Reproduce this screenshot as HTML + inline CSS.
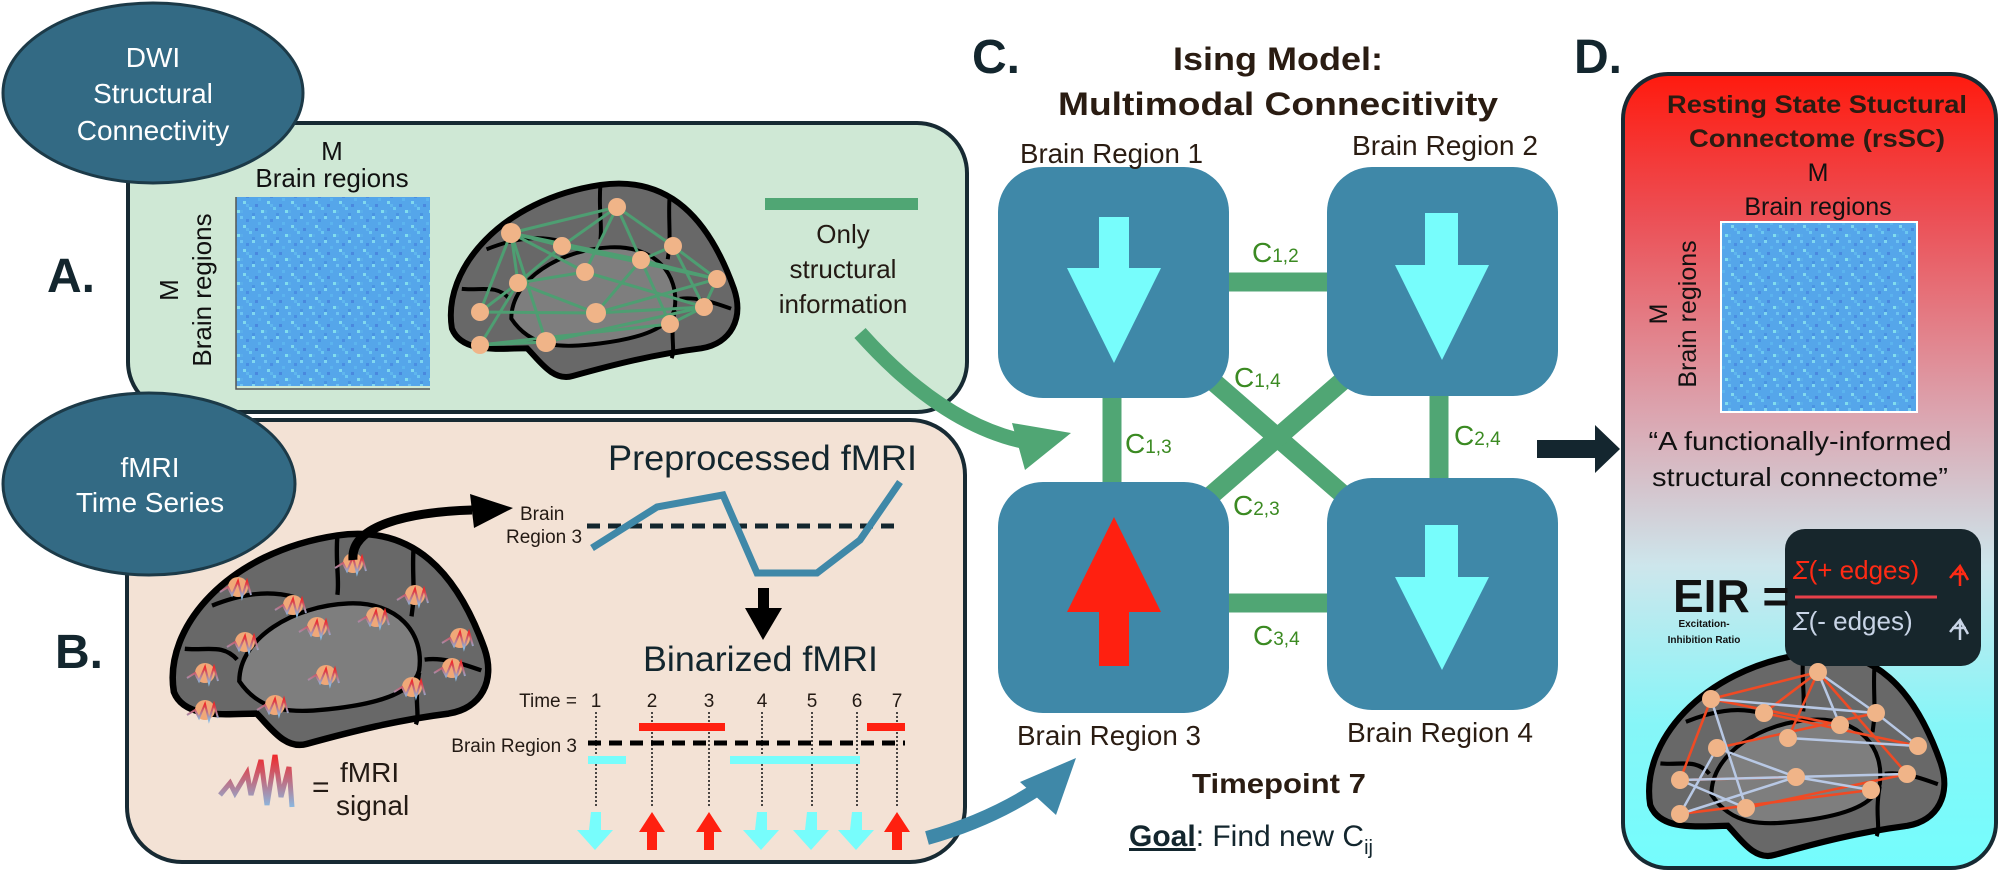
<!DOCTYPE html>
<html><head><meta charset="utf-8"><style>
html,body{margin:0;padding:0;background:#fff;}
svg{display:block;}
text{font-family:"Liberation Sans",sans-serif;}
</style></head><body>
<svg width="2000" height="874" viewBox="0 0 2000 874" xmlns="http://www.w3.org/2000/svg">
<defs>
<linearGradient id="dg" x1="0" y1="0" x2="0" y2="1">
<stop offset="0" stop-color="#ff1a0e"/><stop offset="0.18" stop-color="#ec4f55"/><stop offset="0.42" stop-color="#dca2ad"/><stop offset="0.62" stop-color="#cde6ec"/><stop offset="0.82" stop-color="#86f6f8"/><stop offset="1" stop-color="#74fdfd"/>
</linearGradient>
<linearGradient id="sig" x1="0" y1="0" x2="0" y2="1"><stop offset="0" stop-color="#f0282a"/><stop offset="1" stop-color="#8ab8e0"/></linearGradient>
<pattern id="mx" width="24" height="24" patternUnits="userSpaceOnUse">
<rect width="24" height="24" fill="#55a6ea"/>
<rect x="0" y="0" width="3" height="3" fill="#6ec4f2"/><rect x="6" y="3" width="3" height="3" fill="#4a8ee2"/><rect x="12" y="0" width="3" height="3" fill="#7fd6f0"/><rect x="18" y="6" width="3" height="3" fill="#5cb4ee"/><rect x="3" y="9" width="3" height="3" fill="#80d8ee"/><rect x="15" y="12" width="3" height="3" fill="#4a88de"/><rect x="9" y="15" width="3" height="3" fill="#6cc8f0"/><rect x="21" y="18" width="3" height="3" fill="#80dcee"/><rect x="0" y="18" width="3" height="3" fill="#5aaeea"/><rect x="12" y="21" width="3" height="3" fill="#4a94e2"/><rect x="6" y="12" width="3" height="3" fill="#5fb6ee"/>
</pattern>
<path id="brain" d="M10,150 C0,90 60,20 160,5 C230,-5 270,40 295,110 C305,140 292,165 262,170 C215,176 175,186 132,198 C112,204 98,182 86,170 C60,170 20,176 10,150 Z"/>
<g id="brainfull">
<use href="#brain" fill="#686868" stroke="#000" stroke-width="6"/>
<path d="M70,140 C70,100 120,70 170,68 C215,66 240,95 235,130 C230,150 200,160 160,165 C120,170 90,170 70,140Z" fill="#7e7e7e" stroke="#000" stroke-width="4"/>
<path d="M160,5 C158,30 162,45 160,60 M230,15 C228,40 232,55 228,80 M20,110 C40,112 55,105 68,120 M240,120 C255,118 270,122 292,130 M235,132 C230,160 236,170 232,180 M45,70 C70,60 95,55 120,62" fill="none" stroke="#000" stroke-width="4"/>
</g>
</defs>

<!-- Panel A -->
<rect x="128" y="123" width="839" height="289" rx="50" fill="#cfe8d5" stroke="#172a33" stroke-width="4"/>
<ellipse cx="153" cy="93" rx="150" ry="90" fill="#336a84" stroke="#1c3a48" stroke-width="3"/>
<g fill="#fff" font-size="28" text-anchor="middle">
<text x="153" y="67">DWI</text><text x="153" y="103">Structural</text><text x="153" y="140">Connectivity</text></g>
<text x="47" y="292" font-size="48" font-weight="bold" fill="#13262e">A.</text>
<text x="332" y="160" font-size="26" text-anchor="middle" fill="#111">M</text>
<text x="332" y="187" font-size="26" text-anchor="middle" fill="#111">Brain regions</text>
<text transform="rotate(-90 178 290)" x="178" y="290" font-size="26" text-anchor="middle" fill="#111">M</text>
<text transform="rotate(-90 211 290)" x="211" y="290" font-size="26" text-anchor="middle" fill="#111">Brain regions</text>
<rect x="236" y="197" width="194" height="189" fill="url(#mx)"/>
<path d="M236,197 V389 H430" fill="none" stroke="#555" stroke-width="1.5"/>
<g transform="translate(442,180) scale(0.99,0.99)"><use href="#brainfull"/></g>
<g stroke="#4e9e72" stroke-width="3">
<path d="M511,233 L617,207 L562,246 L511,233 L641,260 L673,246 L617,207 L585,272 L518,283 L511,233 L480,312 L518,283 L596,313 L717,279 L641,260 L596,313 L704,307 L717,279 L673,246 L704,307 L670,324 L480,345 L546,342 L704,307 M511,233 L546,342 M617,207 L641,260 M562,246 L717,279 M480,312 L596,313 M518,283 L480,345 M617,207 L670,324 M585,272 L704,307 M480,345 L670,324 M511,233 L585,272 M562,246 L518,283" fill="none"/>
</g>
<g fill="#f0b488">
<circle cx="511" cy="233" r="10"/><circle cx="617" cy="207" r="9"/><circle cx="562" cy="246" r="9"/><circle cx="673" cy="246" r="9"/><circle cx="641" cy="260" r="9"/><circle cx="585" cy="272" r="9"/><circle cx="518" cy="283" r="9"/><circle cx="717" cy="279" r="9"/><circle cx="480" cy="312" r="9"/><circle cx="596" cy="313" r="10"/><circle cx="704" cy="307" r="9"/><circle cx="670" cy="324" r="9"/><circle cx="480" cy="345" r="9"/><circle cx="546" cy="342" r="10"/>
</g>
<rect x="765" y="198" width="153" height="12" fill="#50a674"/>
<g font-size="26" text-anchor="middle" fill="#231a14">
<text x="843" y="243">Only</text><text x="843" y="278">structural</text><text x="843" y="313">information</text></g>

<!-- Panel B -->
<rect x="127" y="420" width="838" height="442" rx="55" fill="#f3e2d5" stroke="#172a33" stroke-width="4"/>
<ellipse cx="149" cy="484" rx="146" ry="91" fill="#336a84" stroke="#1c3a48" stroke-width="3"/>
<g fill="#fff" font-size="28" text-anchor="middle"><text x="150" y="477">fMRI</text><text x="150" y="512">Time Series</text></g>
<text x="55" y="668" font-size="48" font-weight="bold" fill="#13262e">B.</text>
<g transform="translate(163,530) scale(1.09,1.08)"><use href="#brainfull"/></g>
<g fill="#f0a878">
<circle cx="353" cy="563" r="10"/><circle cx="238" cy="587" r="10"/><circle cx="293" cy="605" r="10"/><circle cx="415" cy="595" r="10"/><circle cx="376" cy="617" r="10"/><circle cx="317" cy="627" r="10"/><circle cx="245" cy="642" r="10"/><circle cx="205" cy="673" r="10"/><circle cx="326" cy="675" r="10"/><circle cx="460" cy="638" r="10"/><circle cx="452" cy="668" r="10"/><circle cx="412" cy="687" r="10"/><circle cx="205" cy="710" r="10"/><circle cx="275" cy="705" r="10"/>
</g>
<g fill="none" stroke="url(#sig)" stroke-width="2">
<path d="M335,568 l8,-5 l4,8 l6,-14 l4,16 l5,-16 l4,14"/><path d="M220,592 l8,-5 l4,8 l6,-14 l4,16 l5,-16 l4,14"/><path d="M275,610 l8,-5 l4,8 l6,-14 l4,16 l5,-16 l4,14"/><path d="M397,600 l8,-5 l4,8 l6,-14 l4,16 l5,-16 l4,14"/><path d="M358,622 l8,-5 l4,8 l6,-14 l4,16 l5,-16 l4,14"/><path d="M299,632 l8,-5 l4,8 l6,-14 l4,16 l5,-16 l4,14"/><path d="M227,647 l8,-5 l4,8 l6,-14 l4,16 l5,-16 l4,14"/><path d="M187,678 l8,-5 l4,8 l6,-14 l4,16 l5,-16 l4,14"/><path d="M308,680 l8,-5 l4,8 l6,-14 l4,16 l5,-16 l4,14"/><path d="M442,643 l8,-5 l4,8 l6,-14 l4,16 l5,-16 l4,14"/><path d="M434,673 l8,-5 l4,8 l6,-14 l4,16 l5,-16 l4,14"/><path d="M394,692 l8,-5 l4,8 l6,-14 l4,16 l5,-16 l4,14"/><path d="M187,715 l8,-5 l4,8 l6,-14 l4,16 l5,-16 l4,14"/><path d="M257,710 l8,-5 l4,8 l6,-14 l4,16 l5,-16 l4,14"/>
</g>
<path d="M353,560 C350,525 410,512 472,510" fill="none" stroke="#000" stroke-width="9"/>
<polygon points="513,508 470,494 474,528" fill="#000"/>
<path d="M220,795 l10,-12 l5,10 l12,-20 l4,22 l10,-35 l6,45 l8,-50 l6,42 l8,-30 l3,40" fill="none" stroke="url(#sig)" stroke-width="5"/>
<text x="312" y="797" font-size="30" fill="#231a14">=</text>
<text x="340" y="782" font-size="28" fill="#231a14">fMRI</text>
<text x="336" y="815" font-size="28" fill="#231a14">signal</text>

<text x="608" y="470" font-size="35" fill="#13262e" textLength="309" lengthAdjust="spacingAndGlyphs">Preprocessed fMRI</text>
<text x="520" y="520" font-size="19" fill="#231a14">Brain</text>
<text x="506" y="543" font-size="19" fill="#231a14">Region 3</text>
<line x1="587" y1="526" x2="900" y2="526" stroke="#13262e" stroke-width="5" stroke-dasharray="13,8"/>
<polyline points="592,548 657,507 723,495 757,573 817,573 860,540 900,482" fill="none" stroke="#3f88a8" stroke-width="7"/>
<rect x="758" y="588" width="11" height="22" fill="#000"/><polygon points="745,608 782,608 763,640" fill="#000"/>
<text x="643" y="671" font-size="35" fill="#13262e" textLength="235" lengthAdjust="spacingAndGlyphs">Binarized fMRI</text>
<text x="577" y="707" font-size="19" text-anchor="end" fill="#231a14">Time =</text>
<g font-size="19" text-anchor="middle" fill="#231a14">
<text x="596" y="707">1</text><text x="652" y="707">2</text><text x="709" y="707">3</text><text x="762" y="707">4</text><text x="812" y="707">5</text><text x="857" y="707">6</text><text x="897" y="707">7</text></g>
<g stroke="#111" stroke-width="1.5" stroke-dasharray="2,2">
<line x1="596" y1="712" x2="596" y2="808"/><line x1="652" y1="712" x2="652" y2="808"/><line x1="709" y1="712" x2="709" y2="808"/><line x1="762" y1="712" x2="762" y2="808"/><line x1="812" y1="712" x2="812" y2="808"/><line x1="857" y1="712" x2="857" y2="808"/><line x1="897" y1="712" x2="897" y2="808"/></g>
<rect x="639" y="723" width="86" height="8" fill="#ff2010"/><rect x="867" y="723" width="38" height="8" fill="#ff2010"/>
<line x1="588" y1="743" x2="905" y2="743" stroke="#000" stroke-width="5" stroke-dasharray="13,8"/>
<text x="577" y="752" font-size="19" text-anchor="end" fill="#231a14">Brain Region 3</text>
<rect x="588" y="756" width="38" height="8" fill="#77fdfc"/><rect x="730" y="756" width="130" height="8" fill="#77fdfc"/>
<g fill="#77fdfc">
<path d="M591,812h10v18h12l-18,20l-18,-20h12z"/><path d="M757,812h10v18h12l-18,20l-18,-20h12z"/><path d="M807,812h10v18h12l-18,20l-18,-20h12z"/><path d="M852,812h10v18h12l-18,20l-18,-20h12z"/></g>
<g fill="#ff2010">
<path d="M652,812l13,20h-8v18h-10v-18h-8z"/><path d="M709,812l13,20h-8v18h-10v-18h-8z"/><path d="M897,812l13,20h-8v18h-10v-18h-8z"/></g>

<!-- Panel C -->
<text x="972" y="73" font-size="48" font-weight="bold" fill="#13262e">C.</text>
<text x="1278" y="70" font-size="32" font-weight="bold" text-anchor="middle" fill="#2a1c12" textLength="210" lengthAdjust="spacingAndGlyphs">Ising Model:</text>
<text x="1278" y="115" font-size="32" font-weight="bold" text-anchor="middle" fill="#2a1c12" textLength="440" lengthAdjust="spacingAndGlyphs">Multimodal Connecitivity</text>
<g stroke="#50a674" stroke-width="19">
<line x1="1200" y1="282" x2="1340" y2="282"/><line x1="1200" y1="603" x2="1340" y2="603"/>
<line x1="1112" y1="380" x2="1112" y2="500"/><line x1="1439" y1="380" x2="1439" y2="500"/>
<line x1="1200" y1="370" x2="1355" y2="505"/><line x1="1355" y1="370" x2="1200" y2="505"/></g>
<g fill="#3f88a8">
<rect x="998" y="167" width="231" height="231" rx="45"/><rect x="1327" y="167" width="231" height="229" rx="45"/>
<rect x="998" y="482" width="231" height="231" rx="45"/><rect x="1327" y="478" width="231" height="232" rx="45"/></g>
<g fill="#77fdfc">
<path d="M1099,217h30v51h32l-47,95l-47,-95h32z"/><path d="M1425,213h33v52h31l-47,95l-47,-95h30z"/><path d="M1425,525h33v52h31l-47,93l-47,-93h30z"/></g>
<path d="M1114,517l47,95h-32v54h-30v-54h-32z" fill="#ff2010"/>
<g font-size="28" fill="#2a1c12">
<text x="1020" y="163" textLength="183" lengthAdjust="spacingAndGlyphs">Brain Region 1</text>
<text x="1352" y="155" textLength="186" lengthAdjust="spacingAndGlyphs">Brain Region 2</text>
<text x="1017" y="745" textLength="184" lengthAdjust="spacingAndGlyphs">Brain Region 3</text>
<text x="1347" y="742" textLength="186" lengthAdjust="spacingAndGlyphs">Brain Region 4</text></g>
<g font-size="28" fill="#3b8a22">
<text x="1252" y="262">C<tspan font-size="19">1,2</tspan></text>
<text x="1234" y="387">C<tspan font-size="19">1,4</tspan></text>
<text x="1125" y="453">C<tspan font-size="19">1,3</tspan></text>
<text x="1454" y="445">C<tspan font-size="19">2,4</tspan></text>
<text x="1233" y="515">C<tspan font-size="19">2,3</tspan></text>
<text x="1253" y="645">C<tspan font-size="19">3,4</tspan></text></g>
<text x="1192" y="793" font-size="28" font-weight="bold" fill="#2a1c12" textLength="174" lengthAdjust="spacingAndGlyphs">Timepoint 7</text>
<text x="1129" y="846" font-size="30" fill="#13262e"><tspan font-weight="bold" text-decoration="underline">Goal</tspan>: Find new C<tspan font-size="20" dy="8">ij</tspan></text>

<!-- curved arrows -->
<path d="M860,333 Q945,428 1032,443" fill="none" stroke="#50a674" stroke-width="15"/>
<polygon points="1071,433 1012,423 1025,470" fill="#50a674"/>
<path d="M927,838 C970,826 1010,808 1045,784" fill="none" stroke="#3f88a8" stroke-width="14"/>
<polygon points="1076,758 1020,782 1056,815" fill="#3f88a8"/>
<!-- arrow to D -->
<rect x="1537" y="440" width="60" height="18" fill="#14262f"/><polygon points="1595,425 1620,449 1595,473" fill="#14262f"/>

<!-- Panel D -->
<text x="1574" y="73" font-size="48" font-weight="bold" fill="#13262e">D.</text>
<rect x="1623" y="74" width="373" height="794" rx="45" fill="url(#dg)" stroke="#172a33" stroke-width="4"/>
<g font-size="25" font-weight="bold" text-anchor="middle" fill="#2a1c12">
<text x="1817" y="113" textLength="300" lengthAdjust="spacingAndGlyphs">Resting State Stuctural</text>
<text x="1817" y="147" textLength="256" lengthAdjust="spacingAndGlyphs">Connectome (rsSC)</text></g>
<text x="1818" y="181" font-size="25" text-anchor="middle" fill="#111">M</text>
<text x="1818" y="215" font-size="25" text-anchor="middle" fill="#111">Brain regions</text>
<text transform="rotate(-90 1667 314)" x="1667" y="314" font-size="25" text-anchor="middle" fill="#111">M</text>
<text transform="rotate(-90 1696 314)" x="1696" y="314" font-size="25" text-anchor="middle" fill="#111">Brain regions</text>
<rect x="1720" y="221" width="198" height="192" fill="#fff"/>
<rect x="1722" y="223" width="194" height="188" fill="url(#mx)"/>
<g font-size="26" text-anchor="middle" fill="#111">
<text x="1800" y="450" textLength="303" lengthAdjust="spacingAndGlyphs">“A functionally-informed</text>
<text x="1800" y="486" textLength="296" lengthAdjust="spacingAndGlyphs">structural connectome”</text></g>
<g transform="translate(1640,649) scale(1.02,1.04)"><use href="#brainfull"/></g>
<rect x="1785" y="529" width="196" height="137" rx="20" fill="#17262c"/>
<text x="1793" y="579" font-size="26" fill="#ff2a14"><tspan font-style="italic">Σ</tspan>(+ edges)</text>
<line x1="1795" y1="597" x2="1937" y2="597" stroke="#e8404a" stroke-width="3"/>
<text x="1793" y="630" font-size="26" fill="#c8d4e6"><tspan font-style="italic">Σ</tspan>(- edges)</text>
<path d="M1950,578 l10,-12 l8,14 M1960,566 v20 M1952,574 h14" stroke="#ff2a14" stroke-width="2.5" fill="none"/>
<path d="M1950,632 l10,-12 l8,14 M1960,620 v20 M1952,628 h14" stroke="#c8d4e6" stroke-width="2.5" fill="none"/>
<text x="1673" y="612" font-size="46" font-weight="bold" fill="#111">EIR =</text>
<text x="1704" y="627" font-size="10" font-weight="bold" text-anchor="middle" fill="#111">Excitation-</text>
<text x="1704" y="643" font-size="10" font-weight="bold" text-anchor="middle" fill="#111">Inhibition Ratio</text>
<g stroke-width="2.5" fill="none">
<path stroke="#f04a24" d="M1711,699 L1818,672 L1764,713 M1818,672 L1907,774 M1711,699 L1680,780 M1764,713 L1918,746 M1717,748 L1876,713 M1680,814 L1871,790 M1746,808 L1907,774 M1680,780 L1796,777 M1818,672 L1788,738 M1711,699 L1840,725"/>
<path stroke="#b8c8e4" d="M1711,699 L1876,713 M1818,672 L1876,713 L1918,746 M1717,748 L1680,814 M1680,780 L1907,774 M1711,699 L1746,808 M1788,738 L1918,746 M1796,777 L1871,790 M1680,814 L1796,777 M1818,672 L1840,725 M1717,748 L1796,777 M1680,780 L1746,808"/>
</g>
<g fill="#f0b488">
<circle cx="1711" cy="699" r="9"/><circle cx="1818" cy="672" r="9"/><circle cx="1764" cy="713" r="9"/><circle cx="1876" cy="713" r="9"/><circle cx="1840" cy="725" r="9"/><circle cx="1788" cy="738" r="9"/><circle cx="1717" cy="748" r="9"/><circle cx="1918" cy="746" r="9"/><circle cx="1680" cy="780" r="9"/><circle cx="1796" cy="777" r="9"/><circle cx="1907" cy="774" r="9"/><circle cx="1871" cy="790" r="9"/><circle cx="1680" cy="814" r="9"/><circle cx="1746" cy="808" r="9"/></g>
</svg>
</body></html>
